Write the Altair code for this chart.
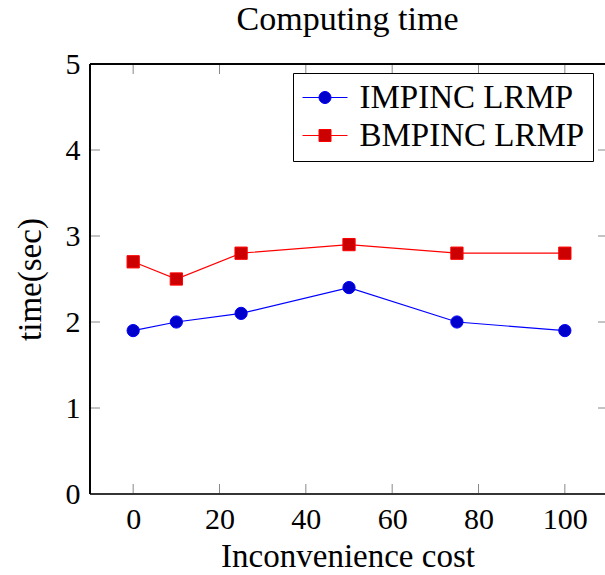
import altair as alt
import pandas as pd

cost = [0, 10, 25, 50, 75, 100]
impinc = [1.9, 2.0, 2.1, 2.4, 2.0, 1.9]
bmpinc = [2.7, 2.5, 2.8, 2.9, 2.8, 2.8]
series_names = ["IMPINC LRMP", "BMPINC LRMP"]
x_ticks = [0, 20, 40, 60, 80, 100]
y_ticks = [0, 1, 2, 3, 4, 5]

FONT = "Liberation Serif"
W, H = 515, 430

df = pd.DataFrame({
    "cost": cost + cost,
    "time": impinc + bmpinc,
    "series": [series_names[0]] * len(cost) + [series_names[1]] * len(cost),
})
xt = pd.DataFrame({"tx": x_ticks})
yt = pd.DataFrame({"ty": y_ticks})

xs = alt.Scale(domain=[-10, 109.3], nice=False, zero=False)
ys = alt.Scale(domain=[0, 5], nice=False, zero=False)
stroke_scale = alt.Scale(domain=series_names, range=["#0000ff", "#ff0000"])
fill_scale = alt.Scale(domain=series_names, range=["#0000cc", "#cc0000"])

r = 0.4
k = 0.2209  # bezier control distance for r=0.4
circle_path = (
    f"M-1.5,0L-{r},0M{r},0L1.5,0"
    f"M-{r},0C-{r},-{k},-{k},-{r},0,-{r}C{k},-{r},{r},-{k},{r},0"
    f"C{r},{k},{k},{r},0,{r}C-{k},{r},-{r},{k},-{r},0Z"
)
square_path = f"M-1.5,0L-{r},0M{r},0L1.5,0M-{r},-{r}L{r},-{r}L{r},{r}L-{r},{r}Z"
shape_scale = alt.Scale(domain=series_names, range=[circle_path, square_path])

x_axis = alt.Axis(
    values=x_ticks, title="Inconvenience cost", grid=False, domain=False, ticks=False,
    labelFont=FONT, labelFontSize=30, labelColor="black", labelPadding=10,
    titleFont=FONT, titleFontSize=33, titleFontWeight="normal", titleColor="black",
    titlePadding=6,
)
y_axis = alt.Axis(
    values=y_ticks, format="d", title="time(sec)", grid=False, domain=False, ticks=False,
    labelFont=FONT, labelFontSize=30, labelColor="black", labelPadding=10,
    titleFont=FONT, titleFontSize=33, titleFontWeight="normal", titleColor="black",
    titlePadding=18,
)

base = alt.Chart(df)

leg = alt.Legend(
    title=None, orient="none", legendX=203, legendY=9,
    fillColor="white", strokeColor="black", padding=8,
    symbolSize=900, symbolStrokeWidth=1, symbolOffset=7.5,
    labelFont=FONT, labelFontSize=33, labelColor="black", labelOffset=18,
    labelLimit=400, rowPadding=4,
)

# legend-only layer (first, so its legend settings win): marks sit outside the clipped plot
legend_layer = base.mark_point(
    filled=True, opacity=1, strokeWidth=1, clip=True
).encode(
    x=alt.value(-1000),
    y=alt.value(-1000),
    fill=alt.Fill("series:N", scale=fill_scale, legend=leg),
    stroke=alt.Stroke("series:N", scale=stroke_scale, legend=leg),
    shape=alt.Shape("series:N", scale=shape_scale, legend=leg),
)

lines = base.mark_line(strokeWidth=1.2).encode(
    x=alt.X("cost:Q", scale=xs, axis=x_axis),
    y=alt.Y("time:Q", scale=ys, axis=y_axis),
    stroke=alt.Stroke("series:N", scale=stroke_scale, legend=leg),
)

points = base.mark_point(filled=True, opacity=1, size=150, strokeWidth=1).encode(
    x=alt.X("cost:Q", scale=xs),
    y=alt.Y("time:Q", scale=ys),
    fill=alt.Fill("series:N", scale=fill_scale, legend=leg),
    stroke=alt.Stroke("series:N", scale=stroke_scale, legend=leg),
    shape=alt.when(alt.datum.series == series_names[0])
    .then(alt.value("circle"))
    .otherwise(alt.value("square")),
)

tick_color = "#888888"
bottom_ticks = alt.Chart(xt).mark_rule(color=tick_color, strokeWidth=1).encode(
    x=alt.X("tx:Q", scale=xs), y=alt.value(H - 10), y2=alt.value(H)
)
top_ticks = alt.Chart(xt).mark_rule(color=tick_color, strokeWidth=1).encode(
    x=alt.X("tx:Q", scale=xs), y=alt.value(0), y2=alt.value(10)
)
left_ticks = alt.Chart(yt).mark_rule(color=tick_color, strokeWidth=1).encode(
    y=alt.Y("ty:Q", scale=ys), x=alt.value(0), x2=alt.value(10)
)
right_ticks = alt.Chart(yt).mark_rule(color=tick_color, strokeWidth=1).encode(
    y=alt.Y("ty:Q", scale=ys), x=alt.value(W - 7), x2=alt.value(W)
)

frame_top = alt.Chart(xt).mark_rule(color="black", strokeWidth=1).encode(
    x=alt.value(0), x2=alt.value(W), y=alt.value(0)
)
frame_bottom = alt.Chart(xt).mark_rule(color="#333333", strokeWidth=1).encode(
    x=alt.value(0), x2=alt.value(W), y=alt.value(H)
)
frame_left = alt.Chart(xt).mark_rule(color="black", strokeWidth=1).encode(
    x=alt.value(0), y=alt.value(0), y2=alt.value(H)
)

chart = alt.layer(
    legend_layer,
    bottom_ticks, top_ticks, left_ticks, right_ticks,
    frame_top, frame_bottom, frame_left,
    lines, points,
).properties(
    width=W, height=H,
    title=alt.TitleParams(
        "Computing time", font=FONT, fontSize=34, fontWeight="normal", color="black",
        anchor="middle", dy=-8,
    ),
    autosize=alt.AutoSizeParams(type="none"),
    padding={"left": 90, "top": 64, "right": 0, "bottom": 81},
    background="white",
).configure_view(
    strokeWidth=0
)

chart.save("out.html", embed_options={"renderer": "svg", "actions": False})
